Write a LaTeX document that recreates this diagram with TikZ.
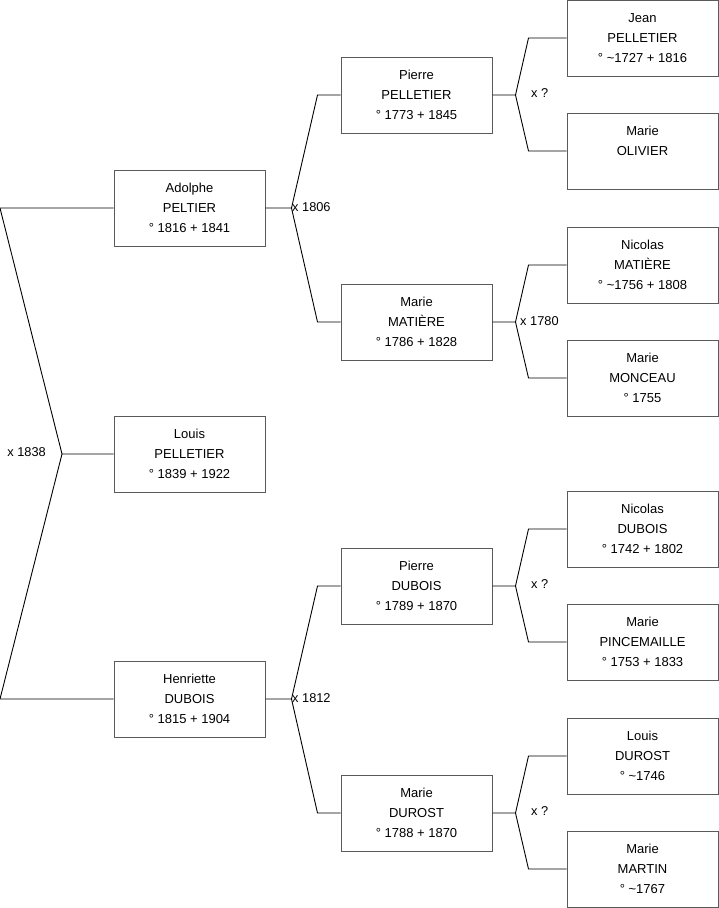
\documentclass[tikz,border=0pt]{standalone}
\usepackage{fontspec}
\setmainfont{Liberation Sans}
\usepackage{xcolor}
\definecolor{pbox}{HTML}{5A5A5A}
\usepackage{tikz}
\usetikzlibrary{calc}
\newcommand{\ca}{\textasciitilde}

\begin{document}
\begin{tikzpicture}[x=1pt,y=-1pt]
\tikzset{
 p/.style={draw=pbox,line width=1pt,minimum width=151pt,minimum height=76pt,inner sep=0pt,align=center,font=\fontsize{13}{20}\selectfont},
 l/.style={draw=black,line width=0.9pt},
 u/.style={inner sep=0pt,font=\fontsize{12.8}{14}\selectfont}
}
\useasboundingbox (0,0) rectangle (719,908);
% generation 1
\node[p] (adolphe) at (189.5,208) {Adolphe\\PELTIER\\° 1816 + 1841};
\node[p] (louis) at (189.5,454) {Louis\\PELLETIER\\° 1839 + 1922};
\node[p] (henriette) at (189.5,699) {Henriette\\DUBOIS\\° 1815 + 1904};
% generation 2
\node[p] (pierreP) at (416.5,95) {Pierre\\PELLETIER\\° 1773 + 1845};
\node[p] (marieM) at (416.5,322) {Marie\\MATIÈRE\\° 1786 + 1828};
\node[p] (pierreD) at (416.5,586) {Pierre\\DUBOIS\\° 1789 + 1870};
\node[p] (marieD) at (416.5,813) {Marie\\DUROST\\° 1788 + 1870};
% generation 3
\node[p] (jean) at (642.5,38) {Jean\\PELLETIER\\° \ca1727 + 1816};
\node[p] (marieO) at (642.5,151) {Marie\\OLIVIER\\\mbox{}};
\node[p] (nicolasM) at (642.5,265) {Nicolas\\MATIÈRE\\° \ca1756 + 1808};
\node[p] (marieMo) at (642.5,378) {Marie\\MONCEAU\\° 1755};
\node[p] (nicolasD) at (642.5,529) {Nicolas\\DUBOIS\\° 1742 + 1802};
\node[p] (marieP) at (642.5,642) {Marie\\PINCEMAILLE\\° 1753 + 1833};
\node[p] (louisD) at (642.5,756) {Louis\\DUROST\\° \ca1746};
\node[p] (marieMa) at (642.5,869) {Marie\\MARTIN\\° \ca1767};
% root couple
\coordinate (v0) at (62,454);
\coordinate (k1) at (0,208);
\coordinate (k2) at (0,699);
\draw[l] (louis.west) -- (v0) -- (k1) -- (adolphe.west);
\draw[l] (v0) -- (k2) -- (henriette.west);
\node[u,anchor=east] (x0) at (46,452) {x 1838};
% other couples
\foreach \c/\f/\m/\d/\k in {adolphe/pierreP/marieM/26/23,henriette/pierreD/marieD/26/23,
  pierreP/jean/marieO/23/38,marieM/nicolasM/marieMo/23/38,
  pierreD/nicolasD/marieP/23/38,marieD/louisD/marieMa/23/38}{
 \coordinate (v\c) at ($(\c.east)+(\d,0)$);
 \draw[l] (\c.east) -- (v\c) -- ($(\f.west)+(-\k,0)$) -- (\f.west);
 \draw[l] (v\c) -- ($(\m.west)+(-\k,0)$) -- (\m.west);
}
\node[u,anchor=west] (x1) at (292,207) {x 1806};
\node[u,anchor=west] (x2) at (292,698) {x 1812};
\node[u,anchor=west] (x3) at (520,321) {x 1780};
\node[u,anchor=west] (x4) at (531,93) {x ?};
\node[u,anchor=west] (x5) at (531,584) {x ?};
\node[u,anchor=west] (x6) at (531,811) {x ?};
\end{tikzpicture}
\end{document}
